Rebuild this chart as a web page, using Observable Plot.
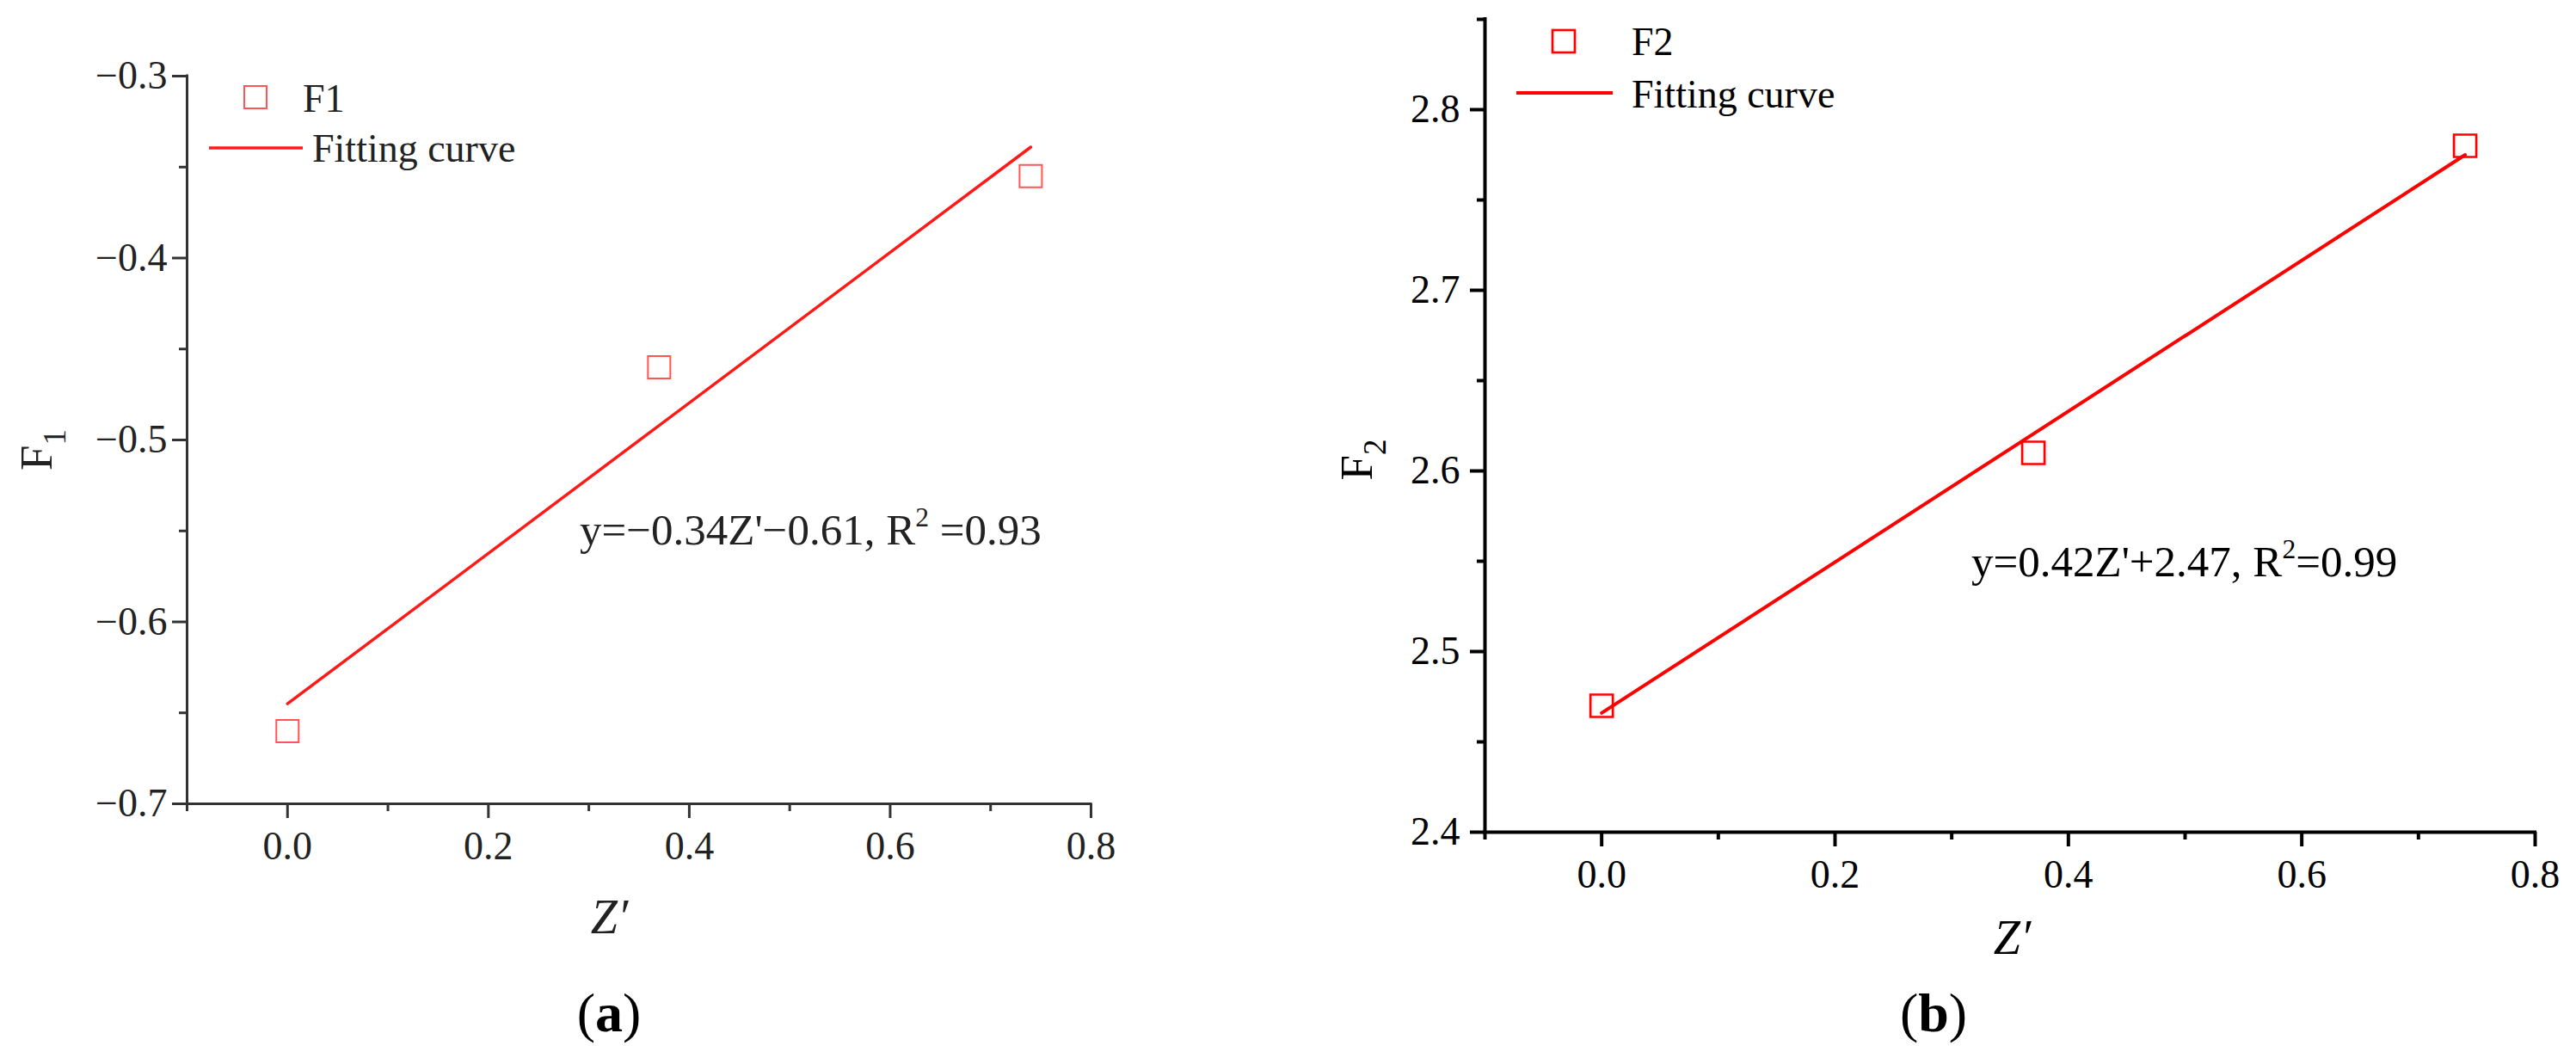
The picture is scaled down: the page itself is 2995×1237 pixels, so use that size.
<!DOCTYPE html>
<html><head><meta charset="utf-8">
<script src="https://cdn.jsdelivr.net/npm/d3@7"></script>
<script src="https://cdn.jsdelivr.net/npm/@observablehq/plot@0.6"></script>
<style>
html,body{margin:0;padding:0;background:#fff;}
#wrap{position:relative;width:2995px;height:1237px;overflow:hidden;font-family:"Liberation Serif","Times New Roman",serif;}
.panel{position:absolute;top:0;}
.cap{position:absolute;width:400px;text-align:center;font-size:64px;line-height:64px;color:#000;}
</style></head><body>
<div id="wrap">
  <div id="pa" class="panel" style="left:0px"></div>
  <div id="pb" class="panel" style="left:1497px"></div>
  <div class="cap" style="left:508px;top:1146px">(<b>a</b>)</div>
  <div class="cap" style="left:2048px;top:1146px">(<b>b</b>)</div>
</div>
<script>
const FONT = '"Liberation Serif", "Times New Roman", serif';
// data
const zA = [0, 0.37, 0.74];
const f1 = [-0.66, -0.46, -0.355];
const fitZA = [0, 0.74];
const fitA = [-0.645, -0.339];
const zB = [0, 0.37, 0.74];
const f2 = [2.47, 2.61, 2.78];
const fitZB = [0, 0.74];
const fitB = [2.466, 2.775];
const xDomain = [-0.1, 0.8];
const yDomainA = [-0.7, -0.3];
const yDomainB = [2.4, 2.85];
const xTicks = [0, 0.2, 0.4, 0.6, 0.8];
const xMinor = [-0.1, 0.1, 0.3, 0.5, 0.7];
const yTicksA = [-0.7, -0.6, -0.5, -0.4, -0.3];
const yMinorA = [-0.65, -0.55, -0.45, -0.35];
const yTicksB = [2.4, 2.5, 2.6, 2.7, 2.8];
const yMinorB = [2.45, 2.55, 2.65, 2.75, 2.85];
const eqA = ["y=−0.34Z'−0.61, R", "2", " =0.93"];
const eqB = ["y=0.42Z'+2.47, R", "2", "=0.99"];
const legendA = ["F1", "Fitting curve"];
const legendB = ["F2", "Fitting curve"];
const yTitleA = ["F", "1"];
const yTitleB = ["F", "2"];
const xTitle = "Z′";

function rich(g, x, y, parts, fs, mode, attrs) {
  const t = g.append("text").attr("x", x).attr("y", y).attr("font-size", fs);
  for (const k in attrs) t.attr(k, attrs[k]);
  let shift = 0;
  parts.forEach((p, i) => {
    const ts = t.append("tspan").text(p);
    if (i === 1) {
      if (mode === "sup") { shift = -fs * 0.42; ts.attr("font-size", fs * 0.62); }
      else { shift = fs * 0.3; ts.attr("font-size", fs * 0.7); }
      ts.attr("dy", shift);
    } else if (i === 2) {
      ts.attr("dy", -shift);
    }
  });
  return t;
}

function panel(cfg) {
  const fmt = d => d3.format(".1f")(d);
  const pts = cfg.z.map((z, i) => ({z, f: cfg.f[i]}));
  const fit = cfg.fitZ.map((z, i) => ({z, f: cfg.fit[i]}));
  const deco = (index, scales, values, dim) => {
    const g = d3.create("svg:g").attr("font-family", FONT).style("font-family", FONT)
      .attr("fill", cfg.ink).attr("text-anchor", "start");
    const L = dim.marginLeft, T = dim.marginTop;
    const R = dim.width - dim.marginRight, B = dim.height - dim.marginBottom;
    const lg = cfg.leg;
    // legend
    g.append("rect")
      .attr("x", L + lg.sx - cfg.side / 2).attr("y", T + lg.sy - cfg.side / 2)
      .attr("width", cfg.side).attr("height", cfg.side)
      .attr("fill", "none").attr("stroke", cfg.dotColor).attr("stroke-width", cfg.dotW);
    g.append("text").attr("x", L + lg.tx).attr("y", T + lg.t1y + 46 * 0.33)
      .attr("font-size", 46).text(cfg.legend[0]);
    g.append("line").attr("x1", L + lg.lx1).attr("x2", L + lg.lx2)
      .attr("y1", T + lg.ly).attr("y2", T + lg.ly)
      .attr("stroke", cfg.lineColor).attr("stroke-width", cfg.lineW);
    g.append("text").attr("x", L + lg.tx2).attr("y", T + lg.t2y + 46 * 0.33)
      .attr("font-size", 46).text(cfg.legend[1]);
    // equation
    rich(g, cfg.eq.x, cfg.eq.y, cfg.eqText, 51, "sup", {});
    // y title
    const yc = (T + B) / 2 + cfg.yt.dy, yx = L - cfg.yt.off;
    rich(g, yx, yc, cfg.yTitle, 53, "sub", {"text-anchor": "middle", transform: `rotate(-90 ${yx} ${yc})`});
    // x title
    g.append("text").attr("x", (L + R) / 2 + cfg.xt.dx).attr("y", B + cfg.xt.off)
      .attr("text-anchor", "middle").attr("font-style", "italic").attr("font-size", 56).text(xTitle);
    return g.node();
  };
  const axOpts = {stroke: cfg.axisColor, strokeWidth: cfg.axisW, label: null, fill: cfg.ink};
  return Plot.plot({
    width: cfg.width, height: 1130,
    marginLeft: cfg.ml, marginRight: cfg.mr, marginTop: cfg.mt, marginBottom: cfg.mb,
    x: {domain: xDomain, label: null},
    y: {domain: cfg.yDomain, label: null},
    style: {fontFamily: FONT, fontSize: "46px", color: cfg.ink, background: "white", overflow: "visible"},
    marks: [
      Plot.axisX(xTicks, {...axOpts, tickSize: 17, tickPadding: 15, tickFormat: fmt, fontSize: 46}),
      Plot.axisX(xMinor, {...axOpts, tickSize: 9, text: null}),
      Plot.axisY(cfg.yTicks, {...axOpts, tickSize: 17, tickPadding: cfg.ypad, tickFormat: fmt, fontSize: 46}),
      Plot.axisY(cfg.yMinor, {...axOpts, tickSize: 9, text: null}),
      Plot.ruleX([xDomain[0]], {stroke: cfg.axisColor, strokeWidth: cfg.axisW, strokeLinecap: "square"}),
      Plot.ruleY([cfg.yDomain[0]], {stroke: cfg.axisColor, strokeWidth: cfg.axisW, strokeLinecap: "square"}),
      Plot.line(fit, {x: "z", y: "f", stroke: cfg.lineColor, strokeWidth: cfg.lineW}),
      Plot.dot(pts, {x: "z", y: "f", symbol: "square", r: cfg.side / Math.sqrt(Math.PI), stroke: cfg.dotColor, strokeWidth: cfg.dotW, fill: "none"}),
      deco
    ]
  });
}

document.getElementById("pa").appendChild(panel({
  width: 1497, ml: 217, mr: 229, mt: 88, mb: 1130 - 934,
  yDomain: yDomainA, yTicks: yTicksA, yMinor: yMinorA, ypad: 6,
  z: zA, f: f1, fitZ: fitZA, fit: fitA,
  ink: "#222", axisColor: "#333", axisW: 3,
  dotColor: "#ff5555", dotW: 2, side: 26, lineColor: "#ff1a1a", lineW: 3.5,
  legend: legendA,
  leg: {sx: 80, sy: 25, tx: 135, t1y: 27, lx1: 26, lx2: 135, ly: 84, tx2: 146, t2y: 85},
  eq: {x: 674, y: 633}, eqText: eqA,
  yTitle: yTitleA, yt: {off: 157, dy: 12},
  xt: {dx: -34, off: 151}
}));

document.getElementById("pb").appendChild(panel({
  width: 1498, ml: 229, mr: 48, mt: 22, mb: 1130 - 967,
  yDomain: yDomainB, yTicks: yTicksB, yMinor: yMinorB, ypad: 12,
  z: zB, f: f2, fitZ: fitZB, fit: fitB,
  ink: "#000", axisColor: "#000", axisW: 4,
  dotColor: "#ff0000", dotW: 2.7, side: 26, lineColor: "#ff0000", lineW: 4,
  legend: legendB,
  leg: {sx: 92, sy: 26, tx: 171, t1y: 27, lx1: 37, lx2: 149, ly: 86, tx2: 171, t2y: 88},
  eq: {x: 795, y: 670}, eqText: eqB,
  yTitle: yTitleB, yt: {off: 131, dy: 40},
  xt: {dx: 3, off: 142}
}));
</script>
</body></html>
